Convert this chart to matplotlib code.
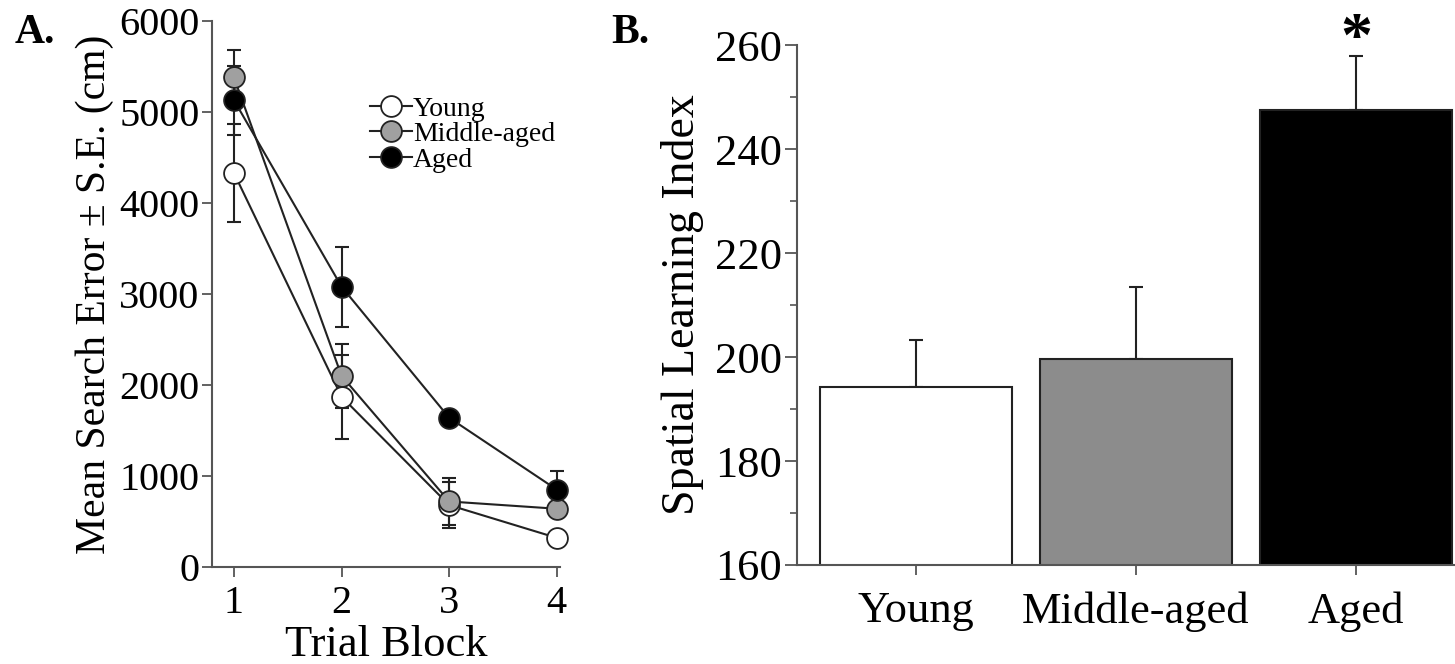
import matplotlib
matplotlib.use("Agg")
import matplotlib.pyplot as plt
from matplotlib.ticker import MultipleLocator

plt.rcParams['font.family'] = ['Liberation Serif', 'DejaVu Serif']

# panel A: search error per trial block
blocks = [1, 2, 3, 4]
young = [4330, 1870, 680, 320]
young_se = [540, 460, 250, 50]
middle = [5380, 2100, 720, 640]
middle_se = [300, 350, 260, 60]
aged = [5130, 3080, 1640, 850]
aged_se = [380, 440, 60, 200]

# panel B: spatial learning index
groups = ["Young", "Middle-aged", "Aged"]
index_vals = [194.2, 199.7, 247.5]
index_se = [9.1, 13.8, 10.4]

spine_col = "#555555"
line_col = "#222222"

fig = plt.figure(figsize=(14.55, 6.64), dpi=100)

# ---- panel A ----
axA = fig.add_axes([0.1457, 0.1461, 0.2392, 0.8223])
series = [(young, young_se, "white", "Young"),
          (middle, middle_se, "#a0a0a0", "Middle-aged"),
          (aged, aged_se, "black", "Aged")]
for vals, se, fc, name in series:
    eb = axA.errorbar(blocks, vals, yerr=se, fmt="none", ecolor=line_col,
                      elinewidth=1.5, capsize=5, capthick=1.5, zorder=2)
    for art in eb.lines[1] + eb.lines[2]:
        art.set_clip_on(False)
for vals, se, fc, name in series:
    axA.plot(blocks, vals, "-o", color=line_col, lw=1.5, markersize=15,
             markerfacecolor=fc, markeredgecolor=line_col, markeredgewidth=1.3,
             label=name, zorder=3, clip_on=False)

axA.set_xlim(0.796, 4.03)
axA.set_ylim(0, 6000)
axA.set_xticks(blocks)
axA.set_yticks(range(0, 7000, 1000))
for s in ["top", "right"]:
    axA.spines[s].set_visible(False)
for s in ["left", "bottom"]:
    axA.spines[s].set_color(spine_col)
    axA.spines[s].set_linewidth(1.5)
axA.tick_params(axis="y", direction="out", length=7, width=1.3, color=spine_col,
                labelsize=29, pad=2)
axA.tick_params(axis="x", direction="out", length=7, width=1.3, color=spine_col,
                labelsize=29, pad=6)
axA.set_xlabel("Trial Block", fontsize=32, labelpad=2)
axA.set_ylabel("Mean Search Error \u00b1 S.E. (cm)", fontsize=30, labelpad=4)
axA.legend(loc="upper left", bbox_to_anchor=(0.454, 0.862), frameon=False,
           fontsize=20, handlelength=1.5, handletextpad=0.05,
           labelspacing=0.0, borderpad=0, borderaxespad=0)
fig.text(0.010, 0.935, "A.", fontsize=30, fontweight="bold")

# ---- panel B ----
axB = fig.add_axes([0.5478, 0.1491, 0.4522, 0.7831])
xpos = range(len(groups))
axB.bar(xpos, index_vals, width=0.87, color=["white", "#8c8c8c", "black"],
        edgecolor=line_col, linewidth=1.5, zorder=2)
axB.errorbar(xpos, index_vals, yerr=[[0] * len(index_se), index_se], fmt="none",
             ecolor=line_col, elinewidth=1.5, capsize=5, capthick=1.5, zorder=1)
axB.set_xlim(-0.54, 2.45)
axB.set_ylim(160, 260)
axB.set_xticks(list(xpos))
axB.set_xticklabels(groups)
axB.set_yticks(range(160, 280, 20))
axB.yaxis.set_minor_locator(MultipleLocator(10))
for s in ["top", "right"]:
    axB.spines[s].set_visible(False)
for s in ["left", "bottom"]:
    axB.spines[s].set_color(spine_col)
    axB.spines[s].set_linewidth(1.5)
axB.tick_params(axis="y", which="major", direction="out", length=9, width=1.3,
                color=spine_col, labelsize=32, pad=2)
axB.tick_params(axis="y", which="minor", direction="out", length=5, width=1.2,
                color=spine_col)
axB.tick_params(axis="x", direction="out", length=7, width=1.3, color=spine_col,
                labelsize=32, pad=12)
axB.set_ylabel("Spatial Learning Index", fontsize=33, labelpad=8)
# significance mark over the aged bar
axB.text(2, 257.8, "*", ha="center", va="baseline",
         fontsize=46, fontweight="bold")
fig.text(0.420, 0.935, "B.", fontsize=30, fontweight="bold")

fig.savefig("out.png", dpi=100)
